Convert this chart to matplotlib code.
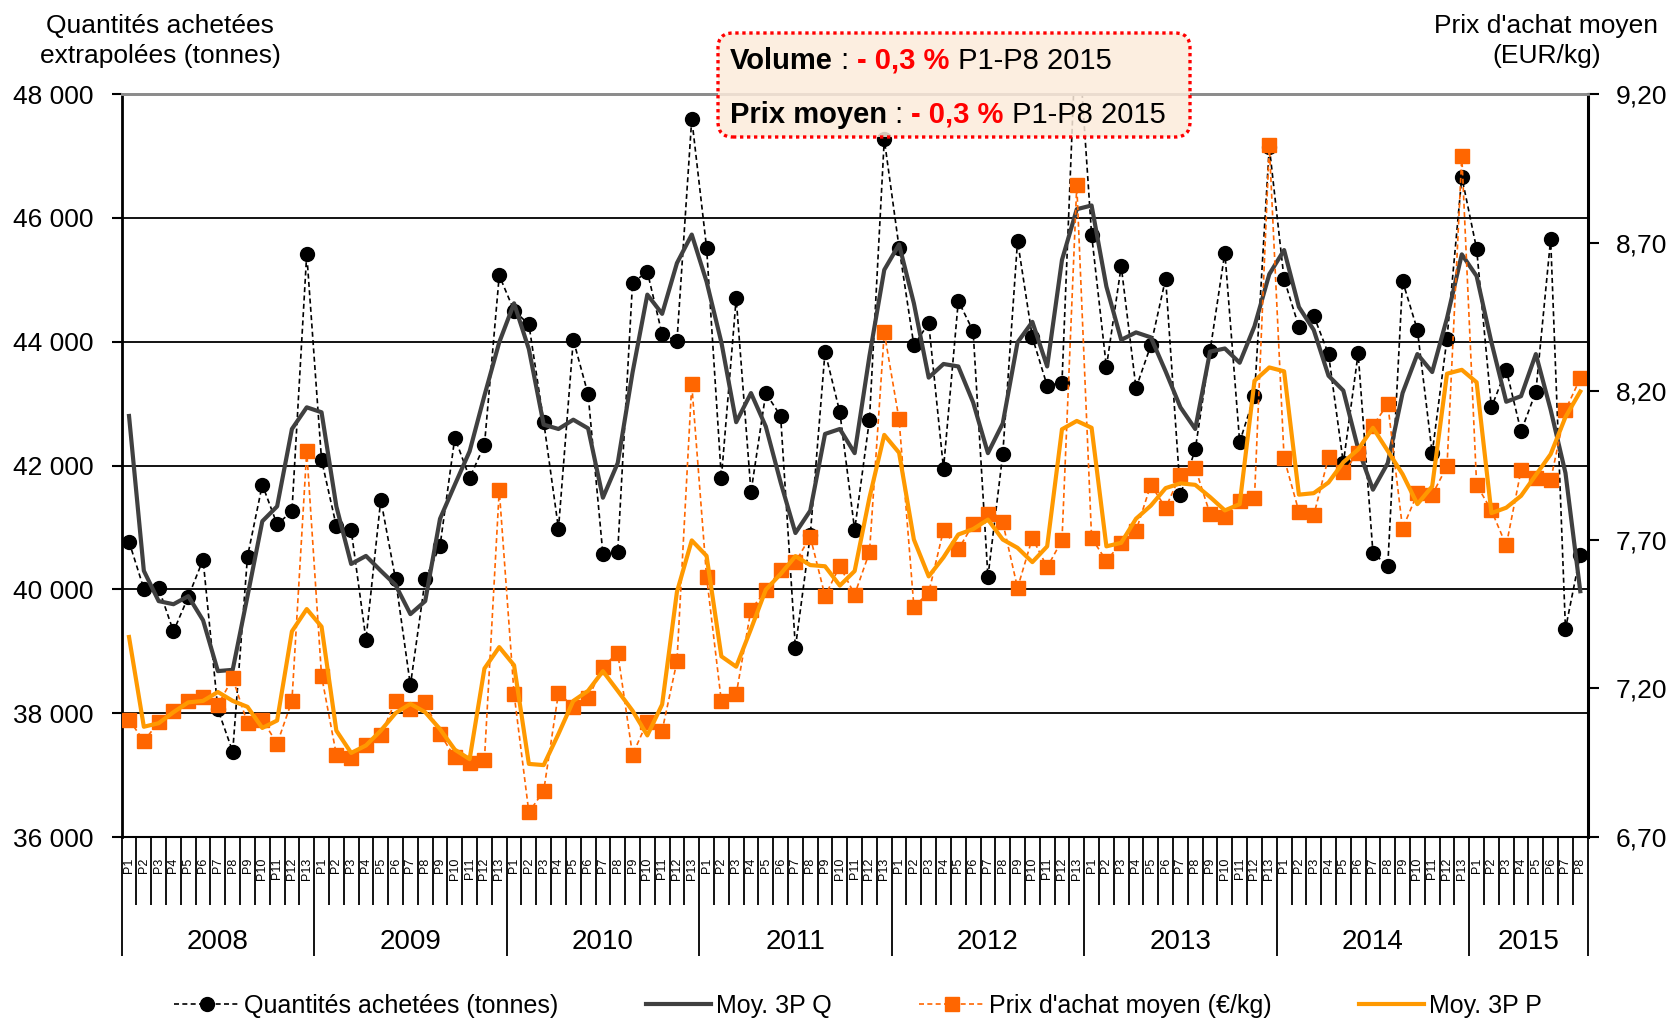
import numpy as np
import matplotlib.pyplot as plt
from matplotlib.patches import FancyBboxPatch
from matplotlib.text import Annotation
import matplotlib.transforms as mtransforms

plt.rcParams['font.family'] = ['Liberation Sans', 'DejaVu Sans']

# periods: 13 per year 2008-2014, P1-P8 in 2015
years = [2008, 2009, 2010, 2011, 2012, 2013, 2014, 2015]
n_per = [13, 13, 13, 13, 13, 13, 13, 8]

# quantites achetees (tonnes)
q = [40770, 40010, 40020, 39320, 39880, 40480, 38060, 37380, 40530, 41690, 41050, 41260, 45420,
     42090, 41020, 40960, 39190, 41450, 40160, 38450, 40160, 40700, 42450, 41800, 42330, 45070,
     44500, 44280, 42710, 40980, 44030, 43150, 40570, 40610, 44950, 45130, 44120, 44010, 47600,
     45520, 41800, 44700, 41570, 43170, 42800, 39060, 40870, 43840, 42860, 40960, 42740, 47270,
     45520, 43940, 44300, 41950, 44660, 44170, 40200, 42180, 45630, 44070, 43290, 43340, 49300,
     45730, 43590, 45220, 43250, 43940, 45020, 41530, 42260, 43850, 45440, 42380, 43130, 47150,
     45010, 44240, 44420, 43800, 42040, 43810, 40590, 40380, 44980, 44190, 42200, 44050, 46660,
     45500, 42940, 43550, 42550, 43190, 45660, 39360, 40560]

# moy. 3P Q
q_moy = [42800, 40300, 39810, 39760, 39890, 39500, 38680, 38700, 39890, 41100, 41340, 42590, 42940,
         42860, 41340, 40410, 40540, 40300, 40070, 39600, 39810, 41140, 41690, 42230, 43130, 43990,
         44620, 43880, 42660, 42590, 42740, 42600, 41480, 42040, 43500, 44760, 44450, 45270, 45730,
         44970, 43990, 42700, 43170, 42630, 41730, 40910, 41270, 42510, 42590, 42200, 43770, 45160,
         45570, 44620, 43420, 43640, 43600, 43020, 42200, 42680, 43990, 44320, 43600, 45320, 46140,
         46200, 44890, 44030, 44150, 44070, 43520, 42940, 42590, 43840, 43890, 43660, 44250, 45090,
         45480, 44560, 44190, 43450, 43210, 42270, 41610, 42040, 43170, 43800, 43510, 44380, 45410,
         45060, 43990, 43030, 43120, 43800, 42900, 41880, 39970]

# prix d'achat moyen (EUR/kg)
prix = [7.095, 7.023, 7.086, 7.125, 7.158, 7.172, 7.144, 7.234, 7.083, 7.095, 7.014, 7.158, 7.999,
        7.242, 6.977, 6.965, 7.011, 7.043, 7.158, 7.132, 7.153, 7.047, 6.968, 6.949, 6.960, 7.868,
        7.182, 6.783, 6.855, 7.185, 7.139, 7.167, 7.272, 7.320, 6.977, 7.088, 7.058, 7.291, 8.223,
        7.576, 7.156, 7.180, 7.465, 7.530, 7.600, 7.624, 7.711, 7.511, 7.612, 7.516, 7.658, 8.398,
        8.105, 7.475, 7.522, 7.733, 7.668, 7.752, 7.788, 7.759, 7.538, 7.706, 7.608, 7.698, 8.894,
        7.706, 7.629, 7.690, 7.730, 7.885, 7.808, 7.918, 7.942, 7.787, 7.776, 7.831, 7.841, 9.028,
        7.974, 7.795, 7.782, 7.978, 7.929, 7.991, 8.084, 8.157, 7.738, 7.856, 7.852, 7.947, 8.992,
        7.885, 7.799, 7.681, 7.934, 7.909, 7.901, 8.137, 8.243]

# moy. 3P P
prix_moy = [7.373, 7.071, 7.083, 7.120, 7.153, 7.158, 7.188, 7.158, 7.138, 7.067, 7.092, 7.392, 7.467,
            7.408, 7.058, 6.983, 7.008, 7.058, 7.117, 7.148, 7.120, 7.063, 6.994, 6.962, 7.267, 7.339,
            7.278, 6.946, 6.942, 7.047, 7.158, 7.192, 7.258, 7.192, 7.125, 7.042, 7.146, 7.525, 7.698,
            7.646, 7.308, 7.273, 7.400, 7.532, 7.585, 7.645, 7.615, 7.611, 7.546, 7.595, 7.842, 8.053,
            7.993, 7.701, 7.577, 7.641, 7.718, 7.736, 7.768, 7.701, 7.673, 7.625, 7.678, 8.072, 8.100,
            8.077, 7.678, 7.690, 7.771, 7.815, 7.874, 7.890, 7.885, 7.844, 7.799, 7.820, 8.235, 8.280,
            8.267, 7.852, 7.857, 7.893, 7.961, 8.004, 8.077, 7.999, 7.921, 7.820, 7.880, 8.259, 8.272,
            8.230, 7.790, 7.808, 7.848, 7.918, 7.988, 8.113, 8.199]

labels = []
for y, n in zip(years, n_per):
    for p in range(1, n + 1):
        labels.append("P" + str(p))
x = np.arange(len(labels))
bounds = np.concatenate([[0], np.cumsum(n_per)]) - 0.5

fig = plt.figure(figsize=(16.73, 10.22), dpi=100)
ax = fig.add_axes([0.0727, 0.181, 0.8763, 0.727])
ax2 = ax.twinx()

l1, = ax.plot(x, q, ls=(0, (3, 2)), color='black', lw=1.2, marker='o', ms=10, zorder=3)
l2, = ax.plot(x, q_moy, color='#404040', lw=3, zorder=4)
l3, = ax2.plot(x, prix, ls=(0, (3, 2)), color='#FF6600', lw=1.2, marker='s', ms=9.5,
               mec='#FF6600', mfc='#FF6600')
l4, = ax2.plot(x, prix_moy, color='#FF9900', lw=3)

# left axis
ax.set_xlim(-0.5, len(x) - 0.5)
ax.set_ylim(36000, 48000)
lt = np.arange(36000, 48001, 2000)
ax.set_yticks(lt)
ax.set_yticklabels([f"{v:,}".replace(",", " ") for v in lt])
ax.yaxis.grid(True, color='black', lw=1.3)
ax.tick_params(axis='y', length=7, width=1.5, labelsize=19, pad=13)

# right axis
ax2.set_ylim(6.70, 9.20)
rt = [6.70, 7.20, 7.70, 8.20, 8.70, 9.20]
ax2.set_yticks(rt)
ax2.set_yticklabels([f"{v:.2f}".replace(".", ",") for v in rt])
ax2.tick_params(axis='y', length=8, width=1.5, labelsize=19, pad=12)

for a in (ax, ax2):
    a.spines['top'].set_color('#8c8c8c')
    a.spines['top'].set_linewidth(2)
    a.spines['left'].set_linewidth(2)
    a.spines['right'].set_linewidth(2.2)
    a.spines['bottom'].set_linewidth(1.5)
ax2.spines['left'].set_visible(False)
ax2.spines['bottom'].set_visible(False)
ax.spines['right'].set_visible(False)

# category axis: period separators and year separators
ax.set_xticks(bounds)
ax.set_xticks(np.arange(-0.5, len(x), 1), minor=True)
ax.set_xticklabels([])
ax.tick_params(axis='x', which='major', length=86, width=1.3, direction='out')
ax.tick_params(axis='x', which='minor', length=49, width=1.3, direction='out')

trans = mtransforms.blended_transform_factory(ax.transData, ax.transAxes)
for i, lab in enumerate(labels):
    ax.text(x[i], -0.028, lab, transform=trans, rotation=90, ha='center', va='top',
            fontsize=9, clip_on=False)
for k, yr in enumerate(years):
    ax.text((bounds[k] + bounds[k + 1]) / 2, -0.1413, str(yr), transform=trans,
            ha='center', va='center', fontsize=20)

# axis titles
fig.text(160 / 1673, 1 - 25.6 / 1022, "Quantités achetées", ha='center', va='center', fontsize=19)
fig.text(160 / 1673, 1 - 56.5 / 1022, "extrapolées (tonnes)", ha='center', va='center', fontsize=19)
fig.text(1546 / 1673, 1 - 25.6 / 1022, "Prix d'achat moyen", ha='center', va='center', fontsize=19)
fig.text(1547 / 1673, 1 - 56.5 / 1022, "(EUR/kg)", ha='center', va='center', fontsize=19)

# legend
handles = [l1, l2, l3, l4]
names = ["Quantités achetées (tonnes)", "Moy. 3P Q", "Prix d'achat moyen (€/kg)", "Moy. 3P P"]
fig.legend(handles, names, loc='center', bbox_to_anchor=(0.513, 0.0156), ncol=4, frameon=False,
           fontsize=18, handlelength=2.6, columnspacing=3.5, handletextpad=0.2)

# annotation box
box = FancyBboxPatch((7.18, 8.85), 4.72, 1.04, boxstyle="round,pad=0,rounding_size=0.15",
                     transform=fig.dpi_scale_trans, facecolor=(0.99, 0.92, 0.86, 0.85),
                     edgecolor='#FF0000', lw=2.4, linestyle=(0, (1, 1.1)), zorder=2)
fig.add_artist(box)


def chain_text(parts, x0, y0):
    prev = fig.text(x0, y0, parts[0][0], transform=fig.dpi_scale_trans, va='bottom',
                    fontsize=21, weight=parts[0][1], color=parts[0][2], zorder=3)
    for s, w, c in parts[1:]:
        ann = Annotation(s, xy=(1, 0), xycoords=prev, va='bottom', ha='left',
                         fontsize=21, weight=w, color=c, zorder=3)
        fig.add_artist(ann)
        prev = ann


red = '#FF0000'
chain_text([("Volume", 'bold', 'black'), (" : ", 'normal', 'black'),
            ("- 0,3 %", 'bold', red), (" P1-P8 2015", 'normal', 'black')], 7.30, 9.475)
chain_text([("Prix moyen", 'bold', 'black'), (" : ", 'normal', 'black'),
            ("- 0,3 %", 'bold', red), (" P1-P8 2015", 'normal', 'black')], 7.30, 8.935)

fig.savefig("out.png", dpi=100)
